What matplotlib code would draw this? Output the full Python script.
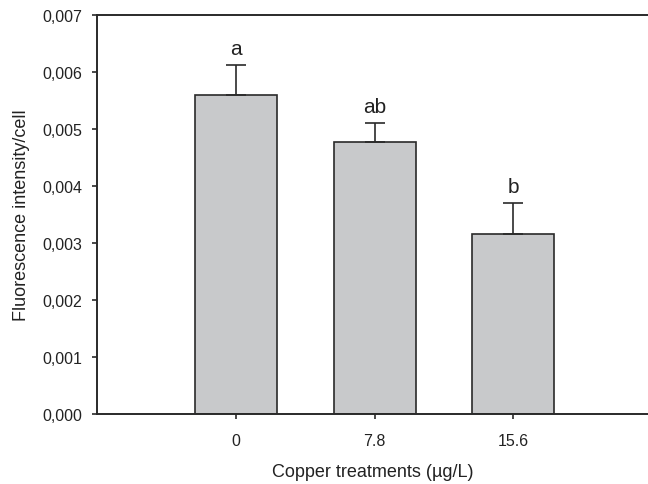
import matplotlib
matplotlib.use("Agg")
import matplotlib.pyplot as plt
from matplotlib.ticker import FuncFormatter

# Data
treatments = ["0", "7.8", "15.6"]
means = [0.00560, 0.00478, 0.00315]
errors = [0.00053, 0.00033, 0.00055]
letters = ["a", "ab", "b"]
yticks = [0.000, 0.001, 0.002, 0.003, 0.004, 0.005, 0.006, 0.007]

plt.rcParams['font.family'] = ['Liberation Sans', 'DejaVu Sans']

fig = plt.figure(figsize=(6.48, 4.85), dpi=100)
ax = fig.add_axes([0.1497, 0.1443, 0.8503, 0.8227])

x = list(range(len(treatments)))
ax.bar(x, means, width=0.59, color="#c8c9cb", edgecolor="#2a2a2a", linewidth=1.2, zorder=2)
ax.errorbar(x, means, yerr=[[0] * len(errors), errors], fmt="none",
            ecolor="#2a2a2a", elinewidth=1.2, capsize=7, capthick=1.2, zorder=3)

# Significance letters above error bars
for xi, m, e, lab in zip(x, means, errors, letters):
    ax.text(xi, m + e + 0.00012, lab, ha="center", va="bottom", fontsize=15, color="#222222")

ax.set_xlim(-1, 2.97)
ax.set_ylim(0, 0.007)
ax.set_xticks(x)
ax.set_xticklabels(treatments)
ax.set_yticks(yticks)
ax.yaxis.set_major_formatter(FuncFormatter(lambda v, p: f"{v:.3f}".replace(".", ",")))

for side in ["left", "top", "bottom"]:
    ax.spines[side].set_linewidth(1.4)
    ax.spines[side].set_color("#2a2a2a")
ax.spines["right"].set_visible(False)
ax.tick_params(axis="both", direction="out", length=3.6, width=1.2, colors="#2a2a2a",
               labelsize=11.5, labelcolor="#222222")
ax.tick_params(axis="y", pad=7)
ax.tick_params(axis="x", pad=10)

ax.set_xlabel("Copper treatments (µg/L)", fontsize=13, color="#222222", labelpad=11)
ax.set_ylabel("Fluorescence intensity/cell", fontsize=13, color="#222222", labelpad=9)

fig.savefig("out.png", dpi=100)
